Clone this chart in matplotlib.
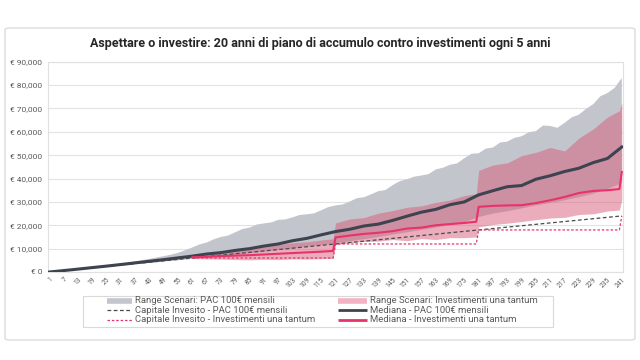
import matplotlib
matplotlib.use("Agg")
import matplotlib.pyplot as plt
from matplotlib.lines import Line2D
from matplotlib.patches import FancyBboxPatch, Rectangle
from matplotlib.ticker import FuncFormatter

# ---------------- data ----------------
title = "Aspettare o investire: 20 anni di piano di accumulo contro investimenti ogni 5 anni"

pac_months = [1, 7, 13, 19, 25, 31, 37, 43, 49, 55, 61, 67, 73, 79, 85, 91, 97, 103, 109, 115,
              121, 127, 133, 139, 145, 151, 157, 163, 169, 175, 181, 187, 193, 199, 205, 211,
              217, 223, 229, 235, 241]
pac_median = [0, 600, 1230, 1880, 2520, 3200, 3900, 4600, 5300, 6050, 6800, 7700, 8300, 9250,
              10000, 11100, 12000, 13400, 14400, 15900, 17300, 18300, 19700, 20500, 22100, 23900,
              25600, 26800, 28800, 30000, 33000, 34800, 36500, 37000, 39700, 41200, 43000, 44400,
              46800, 48600, 53500]
pac_lower = [0, 580, 1150, 1700, 2250, 2800, 3350, 3900, 4450, 5000, 5600, 6200, 6800, 7400,
             8000, 8700, 9400, 10000, 10800, 11500, 12300, 13200, 14000, 15000, 16000, 17000,
             18000, 19000, 20200, 21300, 23500, 25000, 26000, 27200, 28500, 29500, 30700, 32000,
             33500, 35500, 38000]

pac_upper_months = list(range(1, 242, 3))
pac_upper = [0, 300, 620, 950, 1300, 1650, 2000, 2350, 2750, 3150, 3600, 4000, 4500, 5100,
             5600, 6200, 6800, 7400, 8200, 9300, 10500, 11800, 12600, 14000, 15000, 15600,
             17000, 18400, 19000, 20300, 20800, 21200, 22300, 22500, 23400, 24400, 24700, 25100,
             26400, 27800, 28500, 28900, 30200, 31600, 32000, 33300, 34600, 35100, 37200, 38900,
             39700, 40800, 41300, 41900, 43900, 44600, 45900, 46500, 48700, 50600, 50800, 52800,
             53300, 55400, 55800, 57400, 58100, 59800, 60300, 62700, 62500, 61700, 63800, 66200,
             67300, 69800, 71800, 75200, 76600, 78800, 83000]

lump_months = [61, 67, 73, 79, 85, 91, 97, 103, 109, 115, 120, 121, 127, 133, 139, 145, 151, 157,
               163, 169, 175, 180, 181, 187, 193, 199, 205, 211, 217, 223, 229, 235, 240, 241]
lump_median = [6300, 6500, 6800, 7000, 7200, 7500, 7800, 8100, 8400, 8700, 9000, 14800, 15600,
               16300, 16800, 17500, 18600, 19000, 20000, 20500, 21000, 21500, 27900, 28300, 28500,
               28600, 29500, 30700, 32100, 33800, 34700, 35000, 35500, 42800]
lump_upper = [6600, 7900, 8700, 9800, 10400, 11300, 11700, 12500, 12900, 13700, 14200, 21000,
              22700, 23300, 25200, 26300, 27700, 28300, 29800, 30800, 32700, 33500, 43500, 45800,
              46700, 49800, 51200, 53300, 51800, 57300, 61200, 66300, 69000, 72500]
lump_lower = [5800, 5600, 5500, 5300, 5200, 5400, 5300, 5600, 5500, 5700, 5800, 11800, 12600,
              13100, 13200, 13900, 13400, 14300, 13900, 14700, 14700, 15000, 19300, 20300, 20900,
              21600, 22400, 23100, 23400, 24600, 24900, 26100, 26500, 31000]

pac_cap_months = [1, 241]
pac_cap_values = [0, 24000]
lump_cap_months = [61, 120, 121, 180, 181, 240, 241]
lump_cap_values = [6000, 6000, 12000, 12000, 18000, 18000, 24000]

x_tick_values = list(range(1, 242, 6))
y_tick_values = [0, 10000, 20000, 30000, 40000, 50000, 60000, 70000, 80000, 90000]

labels = ["Range Scenari: PAC 100€ mensili",
          "Capitale Invesito - PAC 100€ mensili",
          "Capitale Invesito - Investimenti una tantum",
          "Range Scenari: Investimenti una tantum",
          "Mediana - PAC 100€ mensili",
          "Mediana - Investimenti una tantum"]

# ---------------- style ----------------
plt.rcParams['font.family'] = ['Roboto', 'DejaVu Sans']
GRAY_BAND = '#c3c5cc'
PINK_BAND = '#d85a7a'
PINK_LIGHT = '#f2b3c4'
DARK = '#3d4450'
PINK = '#e8336a'
CAPDARK = '#4a4a4a'
TXT = '#595959'

W, H = 640, 360
fig = plt.figure(figsize=(6.4, 3.6), dpi=100)
fig.patch.set_facecolor('white')


def fx(px):
    return px / W


def fy(py):
    return 1 - py / H


frame = FancyBboxPatch((fx(5), fy(340)), 630 / W, 312 / H,
                       boxstyle="round,pad=0,rounding_size=0.006",
                       transform=fig.transFigure, facecolor='white',
                       edgecolor='#dcdcdc', linewidth=1.0, zorder=-10)
fig.patches.append(frame)

legbox = Rectangle((fx(83), fy(327)), 470 / W, 31 / H,
                   transform=fig.transFigure, facecolor='white',
                   edgecolor='#d9d9d9', linewidth=0.8, zorder=-5)
fig.patches.append(legbox)

ax = fig.add_axes([fx(48), fy(272), 575 / W, 210.3 / H])
ax.set_zorder(2)
ax.set_facecolor('white')

# gray range: upper bound on 3-month grid, lower bound on 6-month grid -> polygon
poly_x = list(pac_upper_months) + pac_months[::-1]
poly_y = list(pac_upper) + pac_lower[::-1]
ax.fill(poly_x, poly_y, color=GRAY_BAND, linewidth=0, zorder=2)
ax.fill_between(lump_months, lump_lower, lump_upper, color=PINK_BAND, alpha=0.5,
                linewidth=0, zorder=3)
ax.plot(pac_cap_months, pac_cap_values, color=CAPDARK, lw=0.9, ls=(0, (3, 2)), zorder=4)
ax.plot(lump_cap_months, lump_cap_values, color=PINK, lw=0.9, ls=(0, (2, 1.5)), zorder=4)
ax.plot(pac_months, pac_median, color=DARK, lw=2.2, zorder=5)
ax.plot(lump_months, lump_median, color=PINK, lw=1.5, zorder=6)

ax.set_xlim(0.5, 241.5)
ax.set_ylim(0, 90000)
ax.set_yticks(y_tick_values)
ax.yaxis.set_major_formatter(FuncFormatter(lambda v, p: "€ {:,.0f}".format(v)))
ax.set_xticks(x_tick_values)
ax.set_xticklabels([str(v) for v in x_tick_values], rotation=45, ha='right',
                   rotation_mode='anchor')
ax.tick_params(axis='y', labelsize=6, colors=TXT, length=0, pad=4)
ax.tick_params(axis='x', labelsize=4.8, colors=TXT, length=0, pad=3)
ax.grid(axis='y', color='#e3e3e3', lw=0.8, zorder=1)
ax.set_axisbelow(True)
for s in ax.spines.values():
    s.set_color('#e0e0e0')
    s.set_linewidth(0.8)

fig.text(0.5, fy(44), title, ha='center', va='center', fontsize=9,
         fontweight='bold', color='#262626')

# ---- legend drawn manually ----
handle_styles = [dict(color=GRAY_BAND, lw=4.0, solid_capstyle='butt'),
                 dict(color=CAPDARK, lw=0.9, ls=(0, (3, 2))),
                 dict(color=PINK, lw=0.9, ls=(0, (2, 1.5))),
                 dict(color=PINK_LIGHT, lw=4.0, solid_capstyle='butt'),
                 dict(color=DARK, lw=2.0, solid_capstyle='butt'),
                 dict(color=PINK, lw=2.0, solid_capstyle='butt')]
row_y = [300.7, 310.2, 319.7]
col_handle = [(107, 132), (338, 367)]
col_text = [135, 370]
for i, (lab, st) in enumerate(zip(labels, handle_styles)):
    c, r = divmod(i, 3)
    y = fy(row_y[r])
    x0, x1 = col_handle[c]
    fig.add_artist(Line2D([fx(x0), fx(x1)], [y, y], transform=fig.transFigure, **st))
    fig.text(fx(col_text[c]), y, lab, ha='left', va='center', fontsize=6.8, color=TXT)

fig.savefig('out.png', dpi=100)
